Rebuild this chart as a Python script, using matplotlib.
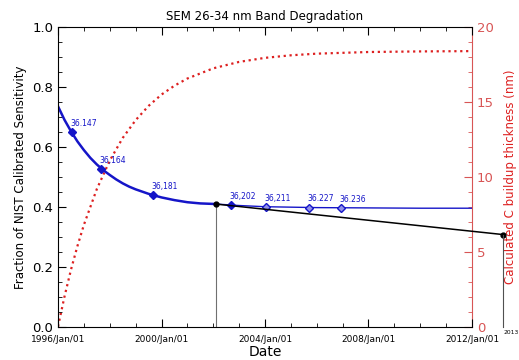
import matplotlib
matplotlib.use('Agg')
import matplotlib.pyplot as plt
from matplotlib.ticker import MultipleLocator

# fitted sensitivity curve (decimal year, fraction)
fit_years = [1996.0, 1996.25, 1996.5, 1996.75, 1997.0, 1997.25, 1997.5, 1997.75,
             1998.0, 1998.25, 1998.5, 1998.75, 1999.0, 1999.5, 2000.0, 2000.5,
             2001.0, 2001.5, 2002.09]
fit_vals = [0.735, 0.690, 0.652, 0.618, 0.589, 0.563, 0.541, 0.522,
            0.506, 0.491, 0.478, 0.467, 0.458, 0.443, 0.431, 0.422,
            0.415, 0.411, 0.409]
flat_years = [2002.09, 2003.0, 2004.0, 2006.0, 2008.0, 2010.0, 2012.0]
flat_vals = [0.409, 0.404, 0.400, 0.397, 0.396, 0.395, 0.395]

# measured points with labels
pt_years = [1996.53, 1997.65, 1999.68, 2002.69, 2004.04, 2005.70, 2006.94]
pt_vals = [0.648, 0.527, 0.440, 0.406, 0.400, 0.397, 0.395]
pt_labels = ['36.147', '36,164', '36,181', '36,202', '36,211', '36.227', '36.236']

# extrapolation line
ext_years = [2002.09, 2013.2]
ext_vals = [0.409, 0.307]

# carbon buildup thickness (nm)
c_years = [1996.0, 1996.25, 1996.5, 1996.75, 1997.0, 1997.5, 1998.0, 1998.5, 1999.0,
           1999.5, 2000.0, 2000.5, 2001.0, 2002.0, 2003.0, 2004.0, 2005.0, 2006.0,
           2008.0, 2010.0, 2012.0]
c_vals = [0.0, 2.0, 3.79, 5.37, 6.79, 9.18, 11.08, 12.59, 13.78,
          14.73, 15.49, 16.08, 16.56, 17.24, 17.67, 17.94, 18.11, 18.22,
          18.33, 18.37, 18.39]

xticks = [1996, 2000, 2004, 2008, 2012]
xlabels = ['1996/Jan/01', '2000/Jan/01', '2004/Jan/01', '2008/Jan/01', '2012/Jan/01']

blue = '#1515c8'
red = '#dd2020'
axred = '#d85555'

fig = plt.figure(figsize=(5.19, 3.6), dpi=100)
ax = fig.add_axes([0.1118, 0.093, 0.7976, 0.832])
ax2 = ax.twinx()

# red curve on the right axis
ax2.plot(c_years, c_vals, color=red, linestyle=':', lw=1.6)
ax2.set_ylim(0, 20)
ax2.yaxis.set_major_locator(MultipleLocator(5))
ax2.yaxis.set_minor_locator(MultipleLocator(1))
ax2.tick_params(axis='y', which='both', direction='in', colors=axred, labelsize=9.5)
ax2.tick_params(axis='y', which='major', length=6)
ax2.tick_params(axis='y', which='minor', length=3)
ax2.spines['right'].set_color(axred)
for s in ['left', 'top', 'bottom']:
    ax2.spines[s].set_visible(False)
ax2.set_ylabel('Calculated C buildup thickness (nm)', color=red, fontsize=8.5, labelpad=7)

# draw left axis content above the red curve
ax.set_zorder(ax2.get_zorder() + 1)
ax.patch.set_visible(False)

ax.plot(fit_years, fit_vals, color=blue, lw=1.8)
ax.plot(flat_years, flat_vals, color=blue, lw=1.0)
ax.plot(pt_years[:4], pt_vals[:4], 'D', color=blue, ms=4)
ax.plot(pt_years[4:], pt_vals[4:], 'D', color=blue, mfc='#9090e8', ms=4)
for x, y, lab in zip(pt_years, pt_vals, pt_labels):
    ax.annotate(lab, (x, y), xytext=(-1, 3), textcoords='offset points',
                fontsize=5.5, color=blue, ha='left', va='bottom')

ax.plot([ext_years[0], ext_years[0]], [0, ext_vals[0]], color='#707070', lw=0.8)
ax.plot(ext_years, ext_vals, color='black', lw=1.1, clip_on=False)
ax.plot(ext_years, ext_vals, 'o', color='black', ms=3.5, clip_on=False)
ax.plot([ext_years[1], ext_years[1]], [0, ext_vals[1]], color='#505050', lw=0.8, clip_on=False)
ax.text(ext_years[1] + 0.03, -0.01, '2013', fontsize=4.3, ha='left', va='top')

ax.set_xlim(1996, 2012)
ax.set_ylim(0, 1.0)
ax.set_xticks(xticks)
ax.set_xticklabels(xlabels, fontsize=6.5)
ax.xaxis.set_minor_locator(MultipleLocator(1))
ax.yaxis.set_major_locator(MultipleLocator(0.2))
ax.yaxis.set_minor_locator(MultipleLocator(0.05))
ax.tick_params(axis='both', which='both', direction='in', top=True, right=False)
ax.tick_params(axis='both', which='major', length=6)
ax.tick_params(axis='both', which='minor', length=3)
ax.tick_params(axis='x', pad=6)
ax.tick_params(axis='y', labelsize=9.5)
ax.spines['right'].set_visible(False)

ax.set_title('SEM 26-34 nm Band Degradation', fontsize=8.5, pad=5)
ax.set_ylabel('Fraction of NIST Calibrated Sensitivity', fontsize=8.5)
ax.set_xlabel('Date', fontsize=10, labelpad=1)

fig.savefig('out.png', dpi=100)
